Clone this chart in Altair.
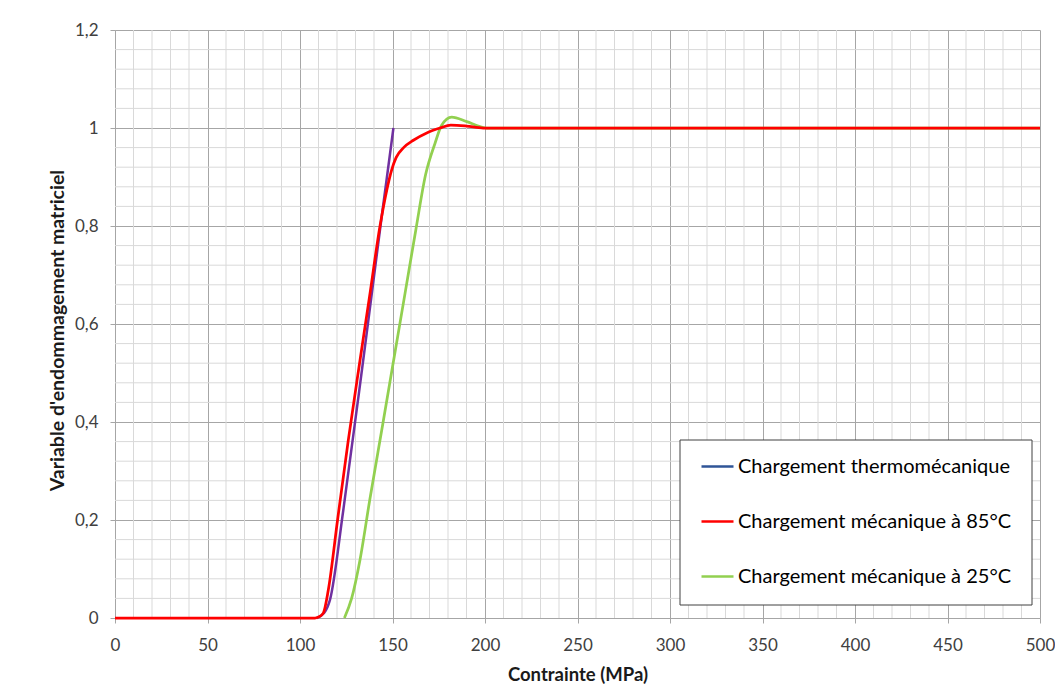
import altair as alt
import pandas as pd

# ---- data ----
series_names = [
    "Chargement thermomécanique",
    "Chargement mécanique à 85°C",
    "Chargement mécanique à 25°C",
]
legend_colors = ["#2F5597", "#FF0000", "#92D050"]
thermo_line_color = "#7030A0"

thermo_x = [109, 113, 116.2, 123.4, 134.2, 143.5, 150.5]
thermo_y = [0, 0.01, 0.037, 0.22, 0.527, 0.80, 1.0]

red_x = [0, 108, 110, 112.6, 115.3, 120.3, 126.0, 132.2, 137.6, 143.2, 146.9,
         149.6, 152.0, 156.0, 161.3, 168.5, 175.7, 181.5, 190, 199, 500]
red_y = [0, 0, 0.002, 0.01, 0.057, 0.2, 0.36, 0.52, 0.656, 0.799, 0.873,
         0.915, 0.94, 0.96, 0.975, 0.99, 1.0, 1.006, 1.004, 1.0, 1.0]

green_x = [124.0, 127.9, 132.4, 137.7, 144.8, 149.9, 156.8, 162.6, 167.9, 173.0,
           176.5, 182.0, 190.1, 197.3, 201, 500]
green_y = [0, 0.04, 0.118, 0.241, 0.397, 0.51, 0.663, 0.792, 0.905, 0.969,
           1.005, 1.022, 1.013, 1.003, 1.0, 1.0]

x_major = [0, 50, 100, 150, 200, 250, 300, 350, 400, 450, 500]
x_minor = [v for v in range(0, 501, 10) if v % 50 != 0]
y_major = [0, 0.2, 0.4, 0.6, 0.8, 1.0, 1.2]
y_minor = [round(i * 0.04, 2) for i in range(31) if i % 5 != 0]

df_thermo = pd.DataFrame({"x": thermo_x, "y": thermo_y, "serie": series_names[0]})
df_red = pd.DataFrame({"x": red_x, "y": red_y, "serie": series_names[1]})
df_green = pd.DataFrame({"x": green_x, "y": green_y, "serie": series_names[2]})

FONT = "Lato"
GRID_MAJOR = "#a6a6a6"
GRID_MINOR = "#d9d9d9"

xs = alt.Scale(domain=[0, 500], nice=False, zero=False)
ys = alt.Scale(domain=[0, 1.2], nice=False)

x_axis = alt.Axis(
    values=x_major, grid=True, gridColor=GRID_MAJOR, gridWidth=1,
    domainColor=GRID_MAJOR, tickColor=GRID_MAJOR, tickSize=5,
    labelFont=FONT, labelFontSize=17, labelColor="#404040", labelPadding=14,
    labelFlush=False,
    title="Contrainte (MPa)", titleFont=FONT, titleFontSize=18.5, titleFontWeight="bold",
    titleColor="#1a1a1a", titleY=56, titleBaseline="middle",
)
y_axis = alt.Axis(
    values=y_major, grid=True, gridColor=GRID_MAJOR, gridWidth=1,
    domainColor=GRID_MAJOR, tickColor=GRID_MAJOR, tickSize=5,
    labelFont=FONT, labelFontSize=17, labelColor="#404040", labelPadding=12,
    labelExpr="replace(format(datum.value, '~g'), '.', ',')",
    title="Variable d'endommagement matriciel", titleFont=FONT, titleFontSize=19.5,
    titleFontWeight="bold", titleColor="#1a1a1a",
    titleX=-58, titleY=300, titleBaseline="middle", titleAngle=-90,
)

vgrid = alt.Chart(pd.DataFrame({"x": x_minor})).mark_rule(
    color=GRID_MINOR, strokeWidth=1
).encode(x=alt.X("x:Q", scale=xs, axis=x_axis))

hgrid = alt.Chart(pd.DataFrame({"y": y_minor})).mark_rule(
    color=GRID_MINOR, strokeWidth=1
).encode(y=alt.Y("y:Q", scale=ys, axis=y_axis))

legend_box = alt.Chart(pd.DataFrame({"a": [0]})).mark_rect(
    fill="white", stroke="#404040", strokeWidth=1
).encode(
    x=alt.value(565), x2=alt.value(917), y=alt.value(410), y2=alt.value(575)
)

color_enc = alt.Color(
    "serie:N",
    scale=alt.Scale(domain=series_names, range=legend_colors),
    legend=alt.Legend(
        orient="none", legendX=585, legendY=419, title=None,
        symbolType="stroke", symbolSize=1024, symbolStrokeWidth=2.5,
        labelFont=FONT, labelFontSize=20, labelColor="#000000",
        labelLimit=400, rowPadding=27, padding=0, labelOffset=3,
    ),
)

thermo_line = alt.Chart(df_thermo).mark_line(
    color=thermo_line_color, strokeWidth=2.5, interpolate="monotone"
).encode(
    x=alt.X("x:Q", scale=xs, axis=x_axis),
    y=alt.Y("y:Q", scale=ys, axis=y_axis),
)

green_line = alt.Chart(df_green).mark_line(
    strokeWidth=2.75, interpolate="monotone"
).encode(
    x=alt.X("x:Q", scale=xs, axis=x_axis),
    y=alt.Y("y:Q", scale=ys, axis=y_axis),
    color=color_enc,
)

red_line = alt.Chart(df_red).mark_line(
    strokeWidth=2.75, interpolate="monotone"
).encode(
    x=alt.X("x:Q", scale=xs, axis=x_axis),
    y=alt.Y("y:Q", scale=ys, axis=y_axis),
    color=color_enc,
)

chart = alt.layer(
    vgrid, hgrid, legend_box, thermo_line, green_line, red_line
).properties(
    width=925, height=588,
    autosize=alt.AutoSizeParams(type="none"),
    padding={"left": 107, "top": 22, "right": 15, "bottom": 70},
).configure_view(stroke="transparent")

chart.save("out.html", embed_options={"renderer": "svg", "actions": False})
